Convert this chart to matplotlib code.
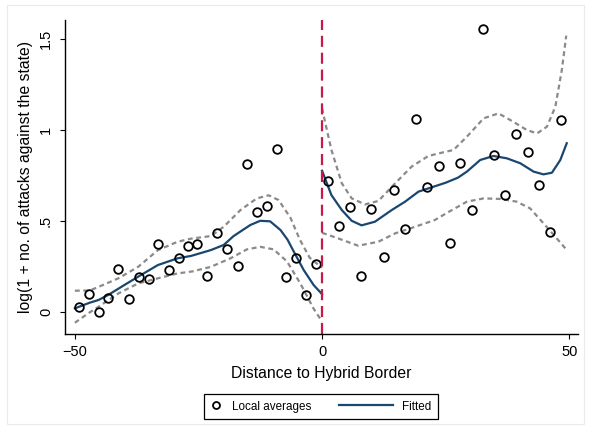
#!/usr/bin/env python3

# imports
import matplotlib
matplotlib.use('Agg')
import matplotlib.pyplot as plt
from matplotlib.lines import Line2D
from matplotlib.patches import Rectangle
from matplotlib.legend_handler import HandlerBase

plt.rcParams['font.family'] = ['Liberation Sans', 'DejaVu Sans']

# local averages (bins), left and right of the border
left_x = [-49.2, -47.1, -45.1, -43.2, -41.2, -39.1, -37.1, -35.1, -33.1, -31.0, -29.0, -27.1, -25.2,
          -23.2, -21.2, -19.2, -17.1, -15.1, -13.2, -11.2, -9.2, -7.2, -5.3, -3.3, -1.2]
left_y = [0.027, 0.10, 0.0, 0.079, 0.238, 0.073, 0.194, 0.185, 0.375, 0.234, 0.297, 0.363, 0.375,
          0.199, 0.437, 0.35, 0.254, 0.813, 0.551, 0.586, 0.897, 0.196, 0.298, 0.095, 0.264]
right_x = [1.3, 3.4, 5.6, 7.9, 10.0, 12.5, 14.6, 16.8, 19.1, 21.3, 23.6, 25.9, 28.0, 30.3, 32.6,
           34.8, 37.1, 39.3, 41.6, 43.8, 46.1, 48.3]
right_y = [0.720, 0.476, 0.577, 0.200, 0.566, 0.304, 0.674, 0.459, 1.064, 0.687, 0.802, 0.379,
           0.822, 0.562, 1.555, 0.866, 0.643, 0.980, 0.879, 0.701, 0.443, 1.057]

# fitted curve, left side
fitL_x = [-50, -47, -45.2, -43.3, -40, -37.2, -33.2, -29.2, -26.5, -22.5, -19.9, -17.9, -14.5,
          -12.5, -10.5, -8.4, -7, -5.7, -3.7, -1.7, 0]
fitL_y = [0.022, 0.053, 0.068, 0.095, 0.15, 0.196, 0.26, 0.297, 0.31, 0.342, 0.37, 0.419, 0.48,
          0.503, 0.50, 0.452, 0.40, 0.333, 0.232, 0.15, 0.10]
hiL_x = [-50, -47, -45.2, -41.2, -37.2, -33.2, -29.2, -26.5, -22.5, -19.9, -16.5, -13.2, -10.8,
         -8.8, -6.4, -4.5, -2.5, 0]
hiL_y = [0.119, 0.12, 0.14, 0.187, 0.25, 0.342, 0.388, 0.405, 0.419, 0.47, 0.562, 0.626, 0.643,
         0.617, 0.52, 0.40, 0.30, 0.245]
loL_x = [-50, -47, -45.2, -41.2, -37.2, -33.2, -29.2, -26.2, -22.5, -18.5, -15.2, -12.5, -9.8,
         -7.1, -4.4, -1.7, 0]
loL_y = [-0.057, 0.0, 0.031, 0.104, 0.159, 0.187, 0.214, 0.225, 0.25, 0.297, 0.346, 0.36, 0.346,
         0.28, 0.159, 0.02, -0.05]

# fitted curve, right side
fitR_x = [0, 1.9, 4.0, 6.0, 8.0, 10.7, 14.1, 16.8, 19.5, 22.2, 25.0, 27.5, 29.3, 32.0, 34.7, 37.4,
          40.1, 42.8, 44.8, 46.5, 48.2, 49.5]
fitR_y = [0.778, 0.644, 0.562, 0.503, 0.478, 0.498, 0.562, 0.608, 0.663, 0.687, 0.712, 0.74, 0.773,
          0.837, 0.859, 0.846, 0.819, 0.773, 0.758, 0.767, 0.837, 0.929]
hiR_x = [0, 1.9, 4.0, 6.0, 8.7, 11.4, 14.8, 18.1, 21.5, 24.2, 26.6, 29.3, 32.7, 35.7, 38.7, 41.4,
         43.5, 45.5, 47.2, 48.5, 49.4]
hiR_y = [1.12, 0.892, 0.709, 0.626, 0.593, 0.612, 0.709, 0.80, 0.859, 0.877, 0.892, 0.965, 1.066,
         1.093, 1.047, 1.002, 0.983, 1.02, 1.13, 1.33, 1.52]
loR_x = [0, 3.3, 7.3, 11.4, 14.8, 18.8, 22.8, 25.5, 29.3, 32.7, 36.1, 39.4, 42.1, 44.8, 47.2, 49.2]
loR_y = [0.437, 0.406, 0.366, 0.388, 0.434, 0.47, 0.507, 0.55, 0.608, 0.626, 0.623, 0.608, 0.571,
         0.489, 0.415, 0.352]

x_ticks = [-50, 0, 50]
y_ticks = [0, 0.5, 1, 1.5]
y_ticklabels = ['0', '.5', '1', '1.5']

navy = '#1a476f'
ci_gray = '#8a8a8a'
red = '#c8194b'

fig = plt.figure(figsize=(5.9, 4.29), dpi=100)
ax = fig.add_axes([0.110, 0.2214, 0.870, 0.732])

ci_style = dict(color=ci_gray, lw=1.6, linestyle=(0, (2.2, 1.6)))
ax.plot(hiL_x, hiL_y, **ci_style)
ax.plot(loL_x, loL_y, **ci_style)
ax.plot(hiR_x, hiR_y, **ci_style)
ax.plot(loR_x, loR_y, **ci_style)

ax.plot(fitL_x, fitL_y, color=navy, lw=1.6)
ax.plot(fitR_x, fitR_y, color=navy, lw=1.6)

mk = dict(linestyle='none', marker='o', mfc='none', mec='black', ms=6.2, mew=1.3)
ax.plot(left_x, left_y, **mk)
ax.plot(right_x, right_y, **mk)

ax.axvline(0, color=red, lw=1.6, linestyle=(0, (5, 2.6)))

ax.set_xlim(-52.02, 51.82)
ax.set_ylim(-0.119, 1.606)
ax.spines['top'].set_visible(False)
ax.spines['right'].set_visible(False)
for s in ['left', 'bottom']:
    ax.spines[s].set_linewidth(1.0)

ax.set_xticks(x_ticks)
ax.set_yticks(y_ticks)
ax.set_yticklabels(y_ticklabels, rotation=90, va='center')
ax.tick_params(direction='out', length=3.6, width=0.8, labelsize=10.5, pad=4)
ax.tick_params(axis='y', pad=5)

ax.set_xlabel('Distance to Hybrid Border', fontsize=11.3, labelpad=5)
ax.set_ylabel('log(1 + no. of attacks against the state)', fontsize=11.3, labelpad=4)


# legend: circle sits at left, fitted line is long
class LongLine(HandlerBase):
    def __init__(self, extra):
        super().__init__()
        self.extra = extra

    def create_artists(self, legend, orig_handle, xdescent, ydescent, width, height, fontsize, trans):
        y = height / 2 - ydescent
        ln = Line2D([-xdescent - self.extra, -xdescent + width], [y, y],
                    color=orig_handle.get_color(), lw=orig_handle.get_linewidth())
        ln.set_transform(trans)
        return [ln]


h_pts = Line2D([], [], linestyle='none', marker='o', mfc='none', mec='black', ms=5, mew=1.3)
h_fit = Line2D([], [], color=navy, lw=1.6)
leg = fig.legend([h_pts, h_fit], ['Local averages', 'Fitted'], ncol=2,
                 loc='center', bbox_to_anchor=(0.544, 0.0524), fontsize=8.4,
                 handlelength=1.0, handletextpad=0.8, columnspacing=6.0,
                 fancybox=False, edgecolor='black', framealpha=1, borderpad=0.55,
                 handler_map={h_fit: LongLine(30)})
leg.get_frame().set_linewidth(0.9)

# faint outer frame of the graph region
fig.patches.append(Rectangle((7 / 590, 5 / 429), 577 / 590, 419 / 429, transform=fig.transFigure,
                             fill=False, edgecolor='#e6ecee', lw=0.8))

plt.savefig('out.png', dpi=100)
